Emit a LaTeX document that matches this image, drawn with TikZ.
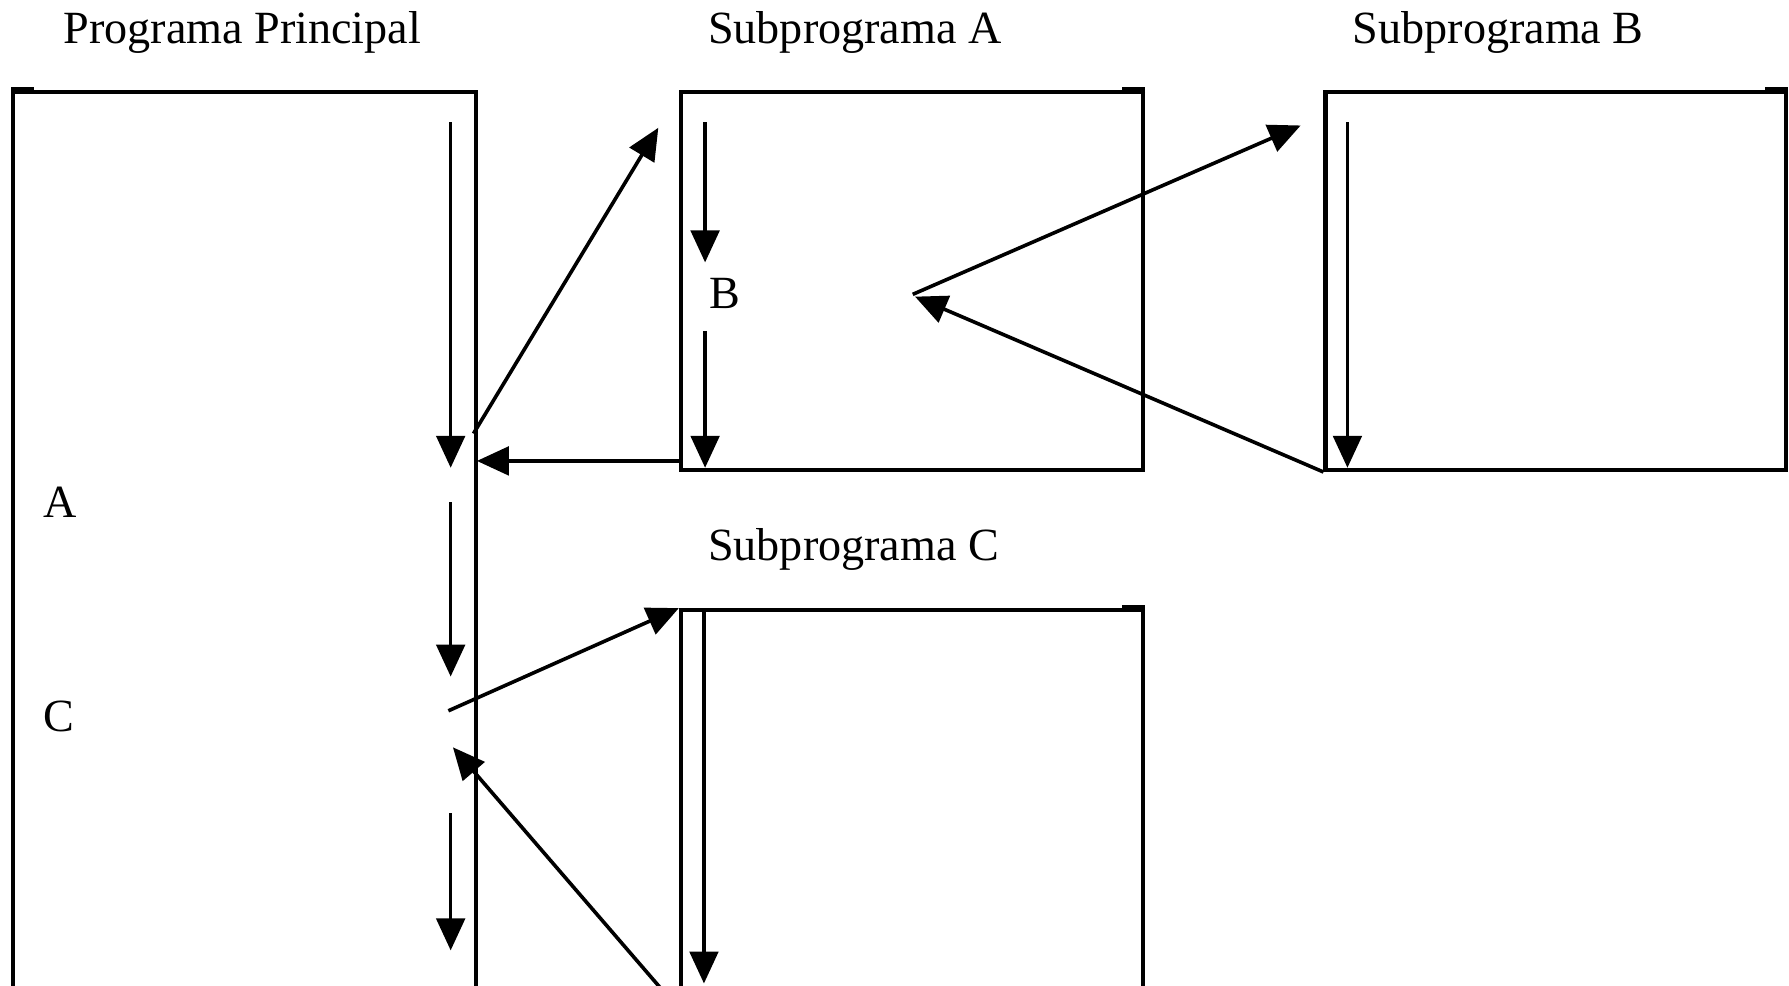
\documentclass[tikz,border=0pt]{standalone}
\usepackage{fontspec}
\setmainfont{Liberation Serif}
\usetikzlibrary{arrows.meta}
\begin{document}
\begin{tikzpicture}[x=0.01cm,y=-0.01cm,
  box/.style={draw, line width=1pt, inner sep=0pt, anchor=north west},
  tick/.style={line width=1.6pt},
  flow/.style={line width=0.9pt, -{Triangle[width=0.25cm,length=0.28cm]}},
  lbl/.style={font=\fontsize{11.5}{14}\selectfont, inner sep=0pt, anchor=base west}]
\useasboundingbox (0,0) rectangle (1568,864);
\clip (0,0) rectangle (1568,864);
% boxes
\node[box, minimum width=4.05cm, minimum height=8.5cm] (main) at (10,79) {};
\node[box, minimum width=4.05cm, minimum height=3.31cm] (subA) at (595,79) {};
\node[box, minimum width=4.03cm, minimum height=3.31cm] (subB) at (1160,79) {};
\node[box, minimum width=4.05cm, minimum height=4.0cm] (subC) at (595,533) {};
% corner marks
\draw[tick] (main.north west) -- ++(20,0);
\draw[tick] (subA.north east) -- ++(-20,0);
\draw[tick] (subB.north east) -- ++(-20,0);
\draw[tick] (subC.north east) -- ++(-20,0);
% titles
\node[lbl] (tmain) at (55,38) {Programa Principal};
\node[lbl] (tA) at (620,38) {Subprograma A};
\node[lbl] (tB) at (1185,38) {Subprograma B};
\node[lbl] (tC) at (620,491) {Subprograma C};
\node[lbl] (la) at (37,454) {A};
\node[lbl] (lc) at (37,641) {C};
\node[lbl] (lb) at (621,270) {B};
% coordinates
\coordinate (m1s) at (395,107); \coordinate (m1e) at (395,410);
\coordinate (m2s) at (395,440); \coordinate (m2e) at (395,593);
\coordinate (m3s) at (395,713); \coordinate (m3e) at (395,833);
\coordinate (callAs) at (415,380); \coordinate (callAe) at (577,112);
\coordinate (retAs) at (595,404); \coordinate (retAe) at (418,404);
\coordinate (a1s) at (618,107); \coordinate (a1e) at (618,230);
\coordinate (a2s) at (618,290); \coordinate (a2e) at (618,410);
\coordinate (callBs) at (800,258); \coordinate (callBe) at (1140,110);
\coordinate (retBe) at (802,260);
\coordinate (b1s) at (1181,107); \coordinate (b1e) at (1181,410);
\coordinate (callCs) at (393,623);
\coordinate (c1s) at (617,533); \coordinate (c1e) at (617,862);
\coordinate (retCs) at (591,880); \coordinate (retCe) at (397,655);
% flows
\draw[flow] (m1s) -- (m1e);
\draw[flow] (m2s) -- (m2e);
\draw[flow] (m3s) -- (m3e);
\draw[flow] (callAs) -- (callAe);
\draw[flow] (retAs) -- (retAe);
\draw[flow] (a1s) -- (a1e);
\draw[flow] (a2s) -- (a2e);
\draw[flow] (callBs) -- (callBe);
\draw[flow] (subB.south west) -- (retBe);
\draw[flow] (b1s) -- (b1e);
\draw[flow] (callCs) -- (subC.north west);
\draw[flow] (c1s) -- (c1e);
\draw[flow] (retCs) -- (retCe);
\end{tikzpicture}
\end{document}
